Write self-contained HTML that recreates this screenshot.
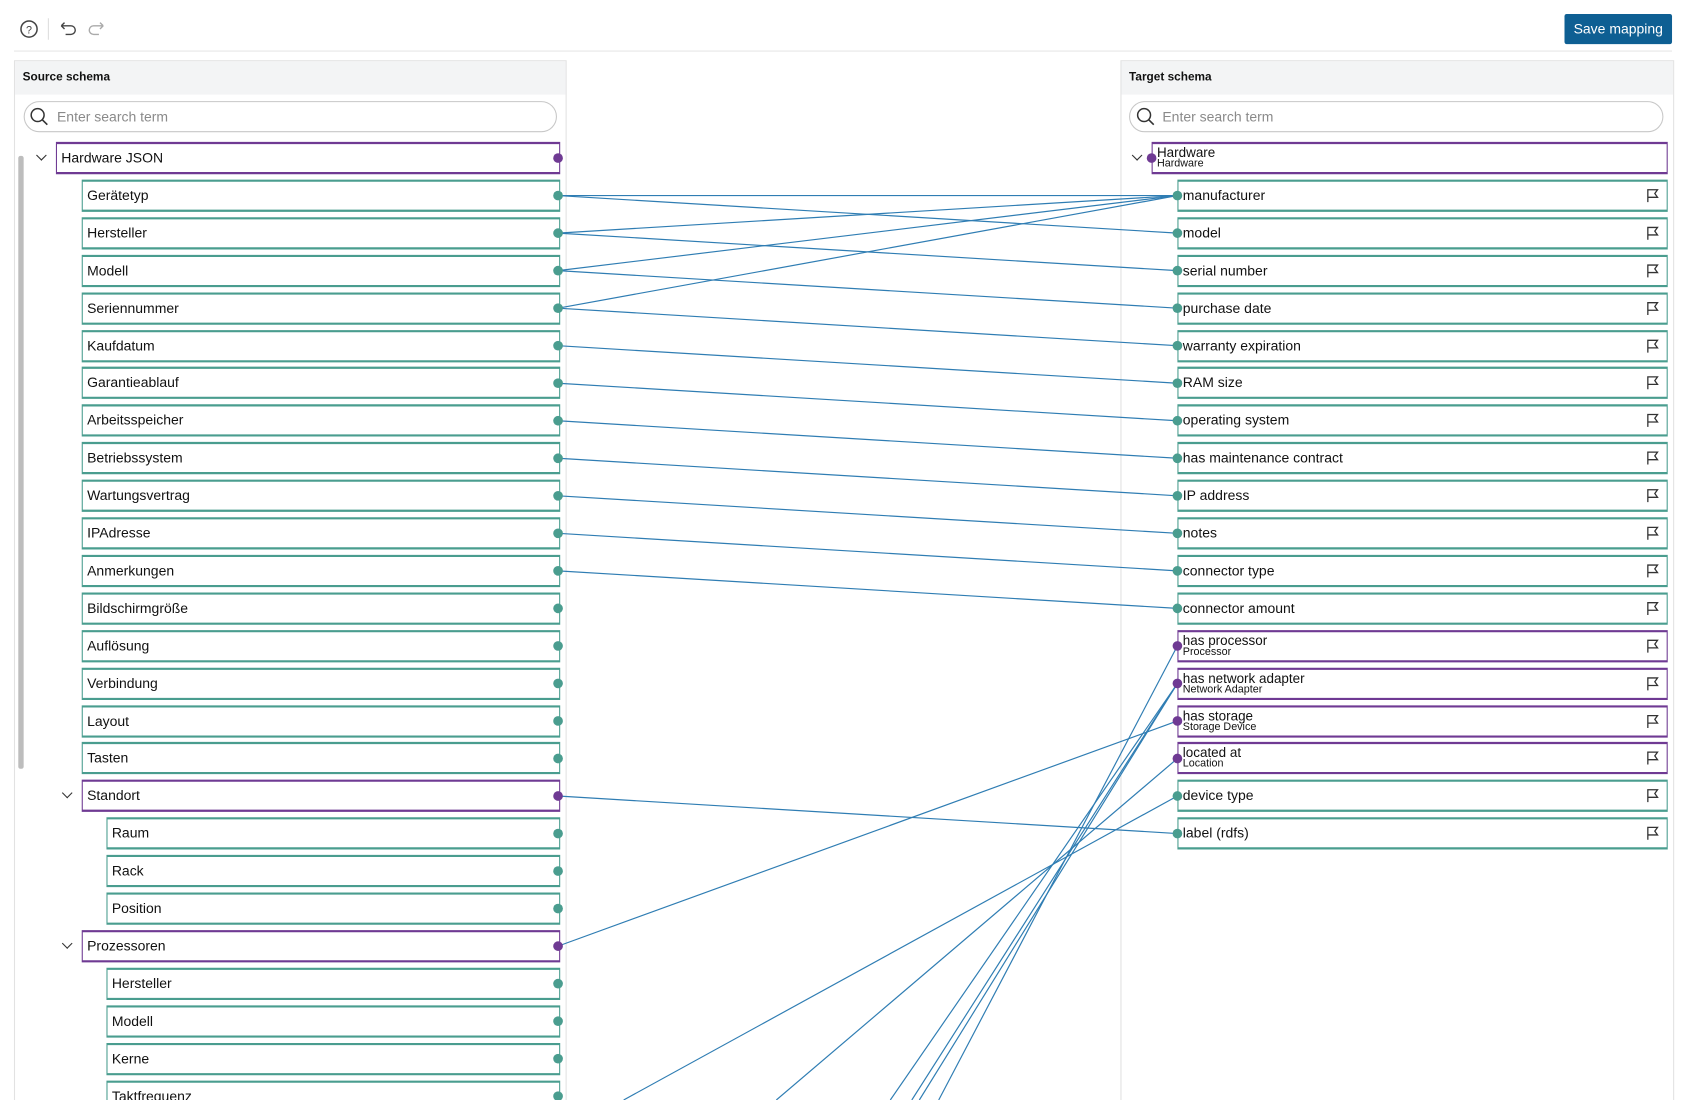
<!DOCTYPE html>
<html><head><meta charset="utf-8">
<style>
html,body{margin:0;padding:0;background:#fff;overflow:hidden;width:1686px;height:1100px}
#root{position:absolute;left:0;top:0;width:1568px;height:1023px;transform:scale(1.07526);transform-origin:0 0;font-family:"Liberation Sans",sans-serif;color:#111;overflow:hidden}
.abs{position:absolute}
.panel{position:absolute;top:56px;bottom:-10px;border:1px solid #e2e2e2;background:#fff}
.hdr{position:absolute;left:0;right:0;top:0;height:31px;background:#f3f4f5;font-weight:bold;font-size:11px;line-height:31px;padding-left:7px}
.search{position:absolute;height:29px;border:1px solid #c8c8c8;border-radius:15px;box-sizing:border-box;font-size:13px;color:#8a8a8a;line-height:27px;padding-left:30px}
.row{position:absolute;height:30px;box-sizing:border-box;border:2px solid #4a9d8f;border-left-width:1.5px;border-right-width:1.5px;background:#fff;font-size:13px;line-height:26px;padding-left:4px;white-space:nowrap}
.row.p{border-color:#6f3a93}
.row .s{font-size:10px;line-height:10px;display:block}
.row .m{font-size:12.5px;line-height:12px;display:block;padding-top:2px}
.chev{position:absolute;width:6px;height:6px;border-right:1.6px solid #333;border-bottom:1.6px solid #333;transform:rotate(45deg)}
</style></head><body><div id="root">
<!-- toolbar -->
<svg class="abs" style="left:0;top:0" width="120" height="45">
<circle cx="27" cy="27" r="7.5" fill="none" stroke="#444" stroke-width="1.4"/>
<text x="27" y="31" font-size="10" text-anchor="middle" fill="#444" font-family="Liberation Sans">?</text>
<line x1="45" y1="17" x2="45" y2="37" stroke="#ddd"/>
<path d="M57 24 h9 a4 4 0 0 1 0 8 h-5 M57 24 l3 -3 M57 24 l3 3" fill="none" stroke="#444" stroke-width="1.3"/>
<path d="M96 24 h-9 a4 4 0 0 0 0 8 h5 M96 24 l-3 -3 M96 24 l-3 3" fill="none" stroke="#aaa" stroke-width="1.3"/>
</svg>
<div class="abs" style="left:1455px;top:13px;width:100px;height:28px;background:#0e5f93;border-radius:2px;color:#fff;font-size:13px;line-height:28px;text-align:center">Save mapping</div>
<div class="abs" style="left:13px;top:47px;width:1542px;height:1px;background:#e6e6e6"></div>

<div class="panel" style="left:13px;width:512px"><div class="hdr">Source schema</div></div>
<div class="panel" style="left:1042px;width:513px"><div class="hdr">Target schema</div></div>
<div class="search" style="left:22px;top:94px;width:496px">Enter search term</div>
<div class="search" style="left:1050px;top:94px;width:497px">Enter search term</div>
<svg class="abs" style="left:0;top:0;overflow:visible" width="10" height="10">
<circle cx="35" cy="107" r="6" fill="none" stroke="#333" stroke-width="1.4"/><line x1="39.5" y1="111.5" x2="44" y2="116" stroke="#333" stroke-width="1.5"/>
<circle cx="1064" cy="107" r="6" fill="none" stroke="#333" stroke-width="1.4"/><line x1="1068.5" y1="111.5" x2="1073" y2="116" stroke="#333" stroke-width="1.5"/>
</svg>
<div class="abs" style="left:17px;top:145px;width:5px;height:570px;background:#bdbdbd;border-radius:2px"></div>
<div id="rows"></div>
<svg id="lines" class="abs" style="left:0;top:0" width="1568" height="1023"></svg>
</div>
<script>
var R=document.getElementById('rows'),L=document.getElementById('lines');
function yc(k){return 147+34.9*k;}
var src=[["Hardware JSON",0,1],["Gerätetyp",1],["Hersteller",1],["Modell",1],["Seriennummer",1],["Kaufdatum",1],["Garantieablauf",1],["Arbeitsspeicher",1],["Betriebssystem",1],["Wartungsvertrag",1],["IPAdresse",1],["Anmerkungen",1],["Bildschirmgröße",1],["Auflösung",1],["Verbindung",1],["Layout",1],["Tasten",1],["Standort",1,1],["Raum",2],["Rack",2],["Position",2],["Prozessoren",1,1],["Hersteller",2],["Modell",2],["Kerne",2],["Taktfrequenz",2]];
var lx=[52,76,99];
var html='',svg='',dots='';
src.forEach(function(s,k){var y=yc(k),x=lx[s[1]];
html+='<div class="row'+(s[2]?' p':'')+'" style="left:'+x+'px;top:'+(y-15)+'px;width:'+(521-x)+'px">'+s[0]+'</div>';
if(s[2])html+='<div class="chev" style="left:'+(x-17)+'px;top:'+(y-6)+'px"></div>';
dots+='<circle cx="519" cy="'+y+'" r="4.5" fill="'+(s[2]?'#6f3a93':'#4a9d8f')+'"/>';});
var tg=[["Hardware","Hardware"],["manufacturer"],["model"],["serial number"],["purchase date"],["warranty expiration"],["RAM size"],["operating system"],["has maintenance contract"],["IP address"],["notes"],["connector type"],["connector amount"],["has processor","Processor"],["has network adapter","Network Adapter"],["has storage","Storage Device"],["located at","Location"],["device type"],["label (rdfs)"]];
tg.forEach(function(t,k){var y=yc(k),x=k?1095:1071;
var inner=t[1]?'<span class="m">'+t[0]+'</span><span class="s">'+t[1]+'</span>':t[0];
html+='<div class="row'+(t[1]?' p':'')+'" style="left:'+x+'px;top:'+(y-15)+'px;width:'+(1551-x)+'px">'+inner+'</div>';
if(k)html+='<svg class="abs" style="left:1531px;top:'+(y-7)+'px" width="12" height="14"><path d="M1.5 13V1.5h9l-2.5 3.5 2.5 3.5h-9" fill="none" stroke="#333" stroke-width="1.2"/></svg>';
else html+='<div class="chev" style="left:1054px;top:'+(y-6)+'px"></div>';
dots+='<circle cx="'+x+'" cy="'+y+'" r="4.5" fill="'+(t[1]?'#6f3a93':'#4a9d8f')+'"/>';});
R.innerHTML=html;
var m=[[1,1],[1,2],[2,1],[2,3],[3,1],[3,4],[4,1],[4,5],[5,6],[6,7],[7,8],[8,9],[9,10],[10,11],[11,12],[17,18],[21,15]];
m.forEach(function(p){svg+='<line x1="519" y1="'+yc(p[0])+'" x2="1095" y2="'+yc(p[1])+'" stroke="#2f7db3" stroke-width="1.1"/>';});
[[580,17],[722,16],[828,14],[848,14],[855,14],[873,13]].forEach(function(p){svg+='<line x1="'+p[0]+'" y1="1023" x2="1095" y2="'+yc(p[1])+'" stroke="#2f7db3" stroke-width="1.1"/>';});
L.innerHTML=svg+dots;
</script>
</body></html>
